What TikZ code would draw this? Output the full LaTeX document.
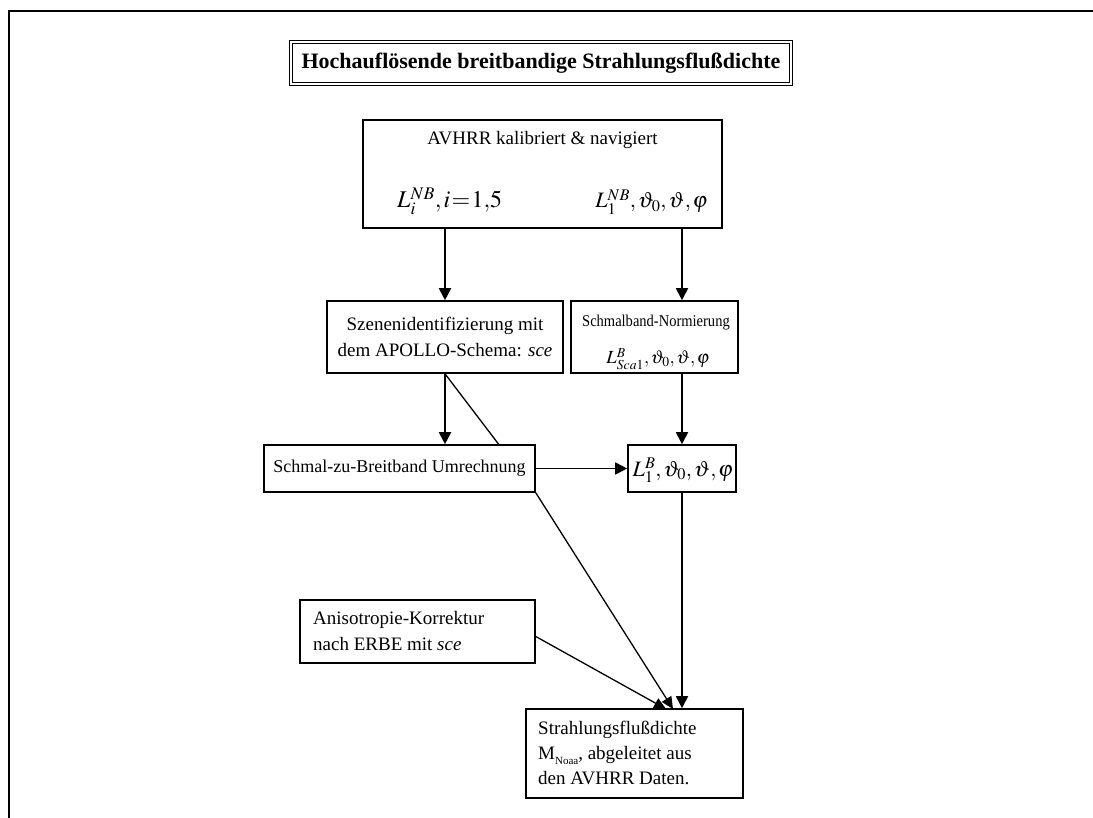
\documentclass[tikz,border=0pt]{standalone}
\usepackage{mathptmx}
\usepackage[no-math]{fontspec}
\setmainfont{Liberation Serif}
\usetikzlibrary{arrows.meta}
\newcommand\fsz[2]{\fontsize{#1}{#2}\selectfont}
% tight comma as set by the equation editor
\newcommand\cm{\mathord{,}\mkern1.5mu}

\tikzset{
  box/.style={draw, line width=1.6pt, fill=white, inner sep=0pt},
  txt/.style={inner sep=0pt},
  arr/.style={line width=1.8pt, -{Triangle[length=12pt,width=12pt]}},
  slim/.style={line width=1.3pt},
  slimarr/.style={line width=1.3pt, -{Triangle[length=12pt,width=11pt]}}
}

\begin{document}
\begin{tikzpicture}[x=1pt, y=-1pt]
\useasboundingbox (0,0) rectangle (1093,818);
\fill[white] (0,0) rectangle (1093,818);

% page frame
\draw[line width=2.2pt] (1093,11) -- (9,11) -- (9,818);

% heading
\node[draw, double, double distance=1.6pt, line width=1pt,
      minimum width=500pt, minimum height=42pt, inner sep=0pt,
      font=\bfseries\fsz{22}{26}] (title) at (541,63)
      {Hochauflösende breitbandige Strahlungsflußdichte};

% input data
\node[box, minimum width=359pt, minimum height=108pt] (avhrr) at (542.5,174) {};
\node[txt, anchor=base, font=\fsz{19}{23}] (avhrrT) at (542.5,145) {AVHRR kalibriert \& navigiert};
\node[txt, anchor=base west, font=\fsz{24}{30}] (avhrrL) at (397,208)
      {$L_i^{NB}\cm i\mkern1mu{=}\mkern1mu 1{,}5$};
\node[txt, anchor=base east, font=\fsz{22}{28}] (avhrrR) at (708,208)
      {$L_1^{NB}\cm \vartheta_0\cm \vartheta\cm \varphi$};

% scene identification and narrowband normalisation
\node[box, minimum width=236pt, minimum height=72pt] (szen) at (445,337) {};
\node[txt, align=center, font=\fsz{19}{26}] (szenT) at (445,337)
      {Szenenidentifizierung mit\\dem APOLLO-Schema: \textit{sce}};

\node[box, minimum width=167pt, minimum height=72pt] (schmal) at (654.5,337) {};
\node[txt, anchor=base west, font=\fsz{16.5}{19}, xscale=0.88] (schmalT) at (582,327) {Schmalband-Normierung};
\node[txt, anchor=base, font=\fsz{18.5}{22}] (schmalL) at (658,364)
      {$L^B_{Sca1}\cm \vartheta_0\cm \vartheta\cm \varphi$};

% line from scene identification, passing behind the conversion box
\draw[slim] (szen.south) -- (535,492);

% narrow-to-broadband conversion
\node[box, minimum width=271pt, minimum height=47pt, font=\fsz{18}{22}] (umr) at (399.5,468.5)
      {Schmal-zu-Breitband Umrechnung};

\node[box, minimum width=108pt, minimum height=47pt] (lb) at (682,468.5) {};
\node[txt, font=\fsz{22}{28}] (lbT) at (683,470)
      {$L_1^B\cm \vartheta_0\cm \vartheta\cm \varphi$};

% anisotropy correction
\node[box, minimum width=235pt, minimum height=63pt] (aniso) at (417.5,631.5) {};
\node[txt, anchor=west, align=left, font=\fsz{19}{26}] (anisoT) at (313,631)
      {Anisotropie-Korrektur\\nach ERBE mit \textit{sce}};

% result
\node[box, minimum width=217pt, minimum height=89pt] (final) at (634.5,753.5) {};
\node[txt, anchor=west, align=left, font=\fsz{19}{25}] (finalT) at (538,753)
      {Strahlungsflußdichte\\M\raisebox{-5pt}{\fsz{11}{11}Noaa}, abgeleitet aus\\den AVHRR Daten.};

\coordinate (tipA) at (666,709);
\coordinate (tipB) at (673,709);

% connectors
\draw[arr] (szen.north |- avhrr.south) -- (szen.north);
\draw[arr] (lb.north |- avhrr.south) -- (lb.north |- schmal.north);
\draw[arr] (szen.south) -- (szen.south |- umr.north);
\draw[arr] (lb.north |- schmal.south) -- (lb.north);
\draw[arr] (umr.east) -- (lb.west);
\draw[slimarr] (umr.south east) -- (tipB);
\draw[slimarr] ([yshift=-5pt]aniso.east) -- (tipA);
\draw[arr] (lb.south) -- (lb.south |- final.north);
\end{tikzpicture}
\end{document}
